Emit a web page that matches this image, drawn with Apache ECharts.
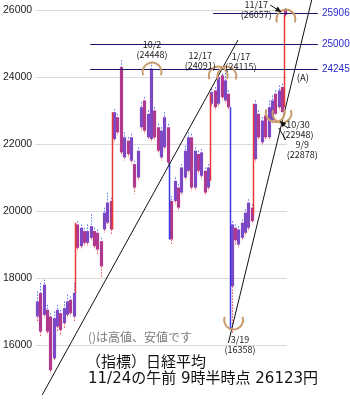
<!DOCTYPE html>
<html><head><meta charset="utf-8">
<script src="https://cdn.jsdelivr.net/npm/echarts@6/dist/echarts.min.js"></script>
<style>html,body{margin:0;padding:0;background:#fff}#c{width:350px;height:400px}</style>
</head><body><div id="c"></div>
<script>
// ---- data ----
const yTicks = [16000, 18000, 20000, 22000, 24000, 26000];
const candleOpen  = [16850,17550,16900,17050,16850,15600,16550,16950,16650,16900,17350,16850,
  19600,18950,19400,19050,19200,19400,19350,19100,19450,19650,20300,
  22150,22800,24300,21600,22100,21500,21400,21000,22500,23300,22200,22150,23000,22500,21600,21900,22500,
  20300,20300,20700,20550,21000,21200,22200,20700,21700,21050,21200,20700,
  23200,23600,23200,24050,23300,23500,
  17750,19500,19000,19200,19350,19500,20100,
  21550,22900,22050,22850,22200,22700,23500,23100,23700,
  26000];
const candleClose = [17300,16400,17800,16400,15250,16800,17050,16450,17100,17300,16950,17550,
  18900,19500,19050,19400,19550,18950,18850,18350,19950,20250,19450,
  22950,22350,21750,22200,21700,22200,20700,21800,23100,22400,22900,24250,22200,21800,22400,22800,21450,
  19150,20900,20100,21300,21800,22200,20700,21800,21200,21750,20550,21300,
  23550,23100,24000,23400,23900,23100,
  19600,19130,19450,19650,19950,20250,19700,
  23200,22200,22700,22200,23100,23300,22900,23600,22950,
  25850];
const candleLow   = [16700,16250,16800,16300,15150,15500,16400,16300,16500,16800,16850,16700,
  18800,18850,18950,18950,19100,18850,18700,18000,19350,19550,19300,
  22050,22250,21650,21500,21600,21400,20500,20900,22400,22300,22100,22050,22100,21700,21500,21800,21350,
  19000,20200,20000,20450,20900,21100,20600,20600,21100,20950,20450,20600,
  23100,23000,23100,23300,23200,23000,
  16358,19000,18900,19100,19250,19400,19600,
  21450,22100,21950,22100,22100,22600,22878,23000,22948,
  25800];
const candleHigh  = [17600,17850,17950,17200,16950,17000,17200,17050,17300,17500,17450,17850,
  19700,19600,19500,19600,19900,19500,19450,19200,20100,20550,20400,
  23050,22900,24500,22350,22200,22300,21500,21900,23250,23400,23000,24448,23100,22600,22500,22950,22600,
  20450,21000,20800,21400,21950,22350,22300,21900,21800,21850,21300,21400,
  23650,23700,24091,24100,24115,23600,
  19700,19600,19550,19750,20050,20350,20200,
  23300,23000,22800,22950,23300,23450,23600,23750,23800,
  26057];
// big gap lines: [position in candle index, from value, to value]
const jumps = [[11.5,17550,19650],[22.5,19450,22950],[39.5,21450,19150],[51.5,20900,23500],
  [57.5,23100,16450],[64.5,19900,23200],[73.5,23100,25850]];
// trend lines: [index1, value1, index2, value2]
const trendLines = [[1.58,14507,59.9,25104],[57.03,16060,81.85,26298]];
const trendNames = ['', '(A)'];
const levelValues = [24245, 25000, 25906];
const levelStart  = [15.9, 15.9, 52.5];
const levelEnd    = [83.7, 83.7, 83.7];
const markIndex = [34, 54, 56, 74, 58, 71, 73];
const markValue = [24448, 24091, 24115, 26057, 16358, 22878, 22948];
const markDate  = ['10/2', '12/17', '1/17', '11/17', '3/19', '9/9', '10/30'];
const markKind  = [1, 1, 1, 1, -1, -1, -1]; // 1 = high, -1 = low
const noteText = '()は高値、安値です';
const titleText = '（指標）日経平均';
const subText = '11/24の午前 9時半時点 26123円';

// ---- layout / style (pixels) ----
const arcShift   = [[1,10],[0,2],[2,3],[0.6,11],[2,-13],[0,-2],[0,1]];
const labelShift = [[1,-12],[-18,-13],[16,-12],[-29,1.5],[8.4,11.5],[27,35],[16,17]];
const leaders = {3:[-15,-3,-4,4,true], 6:[6,16,-2,9,true], 5:[10.6,25.4,3.6,13.4,false]};
const UP = '#7d48c6', DOWN = '#b0388f';
const ARC = '#c99b6c';

const N = candleOpen.length;
const candleData = candleOpen.map((o,i)=>[i,o,candleClose[i],candleLow[i],candleHigh[i]]);
const levelData = levelValues.map((v,i)=>[levelStart[i], levelEnd[i], v]);
const markData = markIndex.map((x,i)=>[x, markValue[i], markKind[i]]);

function renderCandle(params, api){
  const i=api.value(0), o=api.value(1), c=api.value(2), l=api.value(3), h=api.value(4);
  const pO=api.coord([i,o]), pC=api.coord([i,c]), pL=api.coord([i,l]), pH=api.coord([i,h]);
  const w=api.size([1,0])[0]*0.95;
  const top=Math.min(pO[1],pC[1]), bot=Math.max(pO[1],pC[1]);
  const x=Math.round(pO[0])+0.5;
  return {type:'group', children:[
    {type:'line', shape:{x1:x,y1:pH[1],x2:x,y2:top}, style:{stroke:'#5b7cf0',lineWidth:1,lineDash:[1.5,1.5]}},
    {type:'line', shape:{x1:x,y1:bot,x2:x,y2:pL[1]}, style:{stroke:'#f04848',lineWidth:1,lineDash:[1.5,1.5]}},
    {type:'rect', shape:{x:x-w/2,y:top,width:w,height:Math.max(1,bot-top)}, style:{fill:c>=o?UP:DOWN}}
  ]};
}
function renderJump(params, api){
  const p1=api.coord([api.value(0),api.value(1)]), p2=api.coord([api.value(0),api.value(2)]);
  const x=Math.round(p1[0])+0.5;
  return {type:'line', shape:{x1:x,y1:p1[1],x2:x,y2:p2[1]},
    style:{stroke: api.value(2)>api.value(1)?'#e8383a':'#3a3ae0', lineWidth:1.5}};
}
function renderTrend(params, api){
  const p1=api.coord([api.value(0),api.value(1)]), p2=api.coord([api.value(2),api.value(3)]);
  const ch=[{type:'line', shape:{x1:p1[0],y1:p1[1],x2:p2[0],y2:p2[1]}, style:{stroke:'#111',lineWidth:1}}];
  const name=trendNames[params.dataIndex];
  if(name){
    const t=0.775, x=p1[0]+(p2[0]-p1[0])*t+10, y=p1[1]+(p2[1]-p1[1])*t;
    ch.push({type:'text', style:{text:name,x:x,y:y,fill:'#222',font:'9.5px "Noto Sans CJK JP"',align:'center',verticalAlign:'middle'}});
  }
  return {type:'group', children:ch};
}
function renderLevel(params, api){
  const p1=api.coord([api.value(0),api.value(2)]), p2=api.coord([api.value(1),api.value(2)]);
  const y=Math.round(p1[1])+0.5;
  return {type:'group', children:[
    {type:'line', shape:{x1:p1[0],y1:y,x2:p2[0],y2:y}, style:{stroke:'#16166e',lineWidth:1}},
    {type:'text', style:{text:String(api.value(2)),x:p2[0]+4,y:y,fill:'#2a2ad0',font:'10px "Liberation Sans", Arial',align:'left',verticalAlign:'middle'}}
  ]};
}
function renderMark(params, api){
  const k=params.dataIndex;
  const p=api.coord([api.value(0),api.value(1)]);
  const kind=api.value(2);
  const r=9.5;
  const cx=p[0]+arcShift[k][0], cy=p[1]+arcShift[k][1];
  const ch=[];
  ch.push({type:'arc', shape:{cx:cx,cy:cy,r:r,
    startAngle: kind>0? Math.PI-0.35 : -0.35,
    endAngle: kind>0? 2*Math.PI+0.35 : Math.PI+0.35, clockwise:true},
    style:{stroke:ARC,lineWidth:2,fill:'none'}});
  ch.push({type:'text', style:{text:markDate[k]+'\n('+api.value(1)+')',
    x:p[0]+labelShift[k][0], y:p[1]+labelShift[k][1], fill:'#222',
    font:'9px "Noto Sans CJK JP"', lineHeight:10, align:'center', verticalAlign:'middle'}});
  const L=leaders[k];
  if(L){
    const sx=p[0]+L[0], sy=p[1]+L[1], ex=p[0]+L[2], ey=p[1]+L[3];
    ch.push({type:'line', shape:{x1:sx,y1:sy,x2:ex,y2:ey}, style:{stroke:'#111',lineWidth:1}});
    if(L[4]){
      const dx=ex-sx, dy=ey-sy, len=Math.hypot(dx,dy), ux=dx/len, uy=dy/len;
      const bx=ex-ux*6, by=ey-uy*6;
      ch.push({type:'polygon', shape:{points:[[ex,ey],[bx-uy*2.8,by+ux*2.8],[bx+uy*2.8,by-ux*2.8]]}, style:{fill:'#111'}});
    }
  }
  return {type:'group', children:ch};
}

const chart = echarts.init(document.getElementById('c'), null, {renderer:'canvas'});
chart.setOption({
  animation:false,
  backgroundColor:'#fff',
  grid:{left:35, right:63, top:10, bottom:55},
  xAxis:{type:'value', min:-0.5, max:N-0.5, show:false},
  yAxis:{type:'value', min:yTicks[0], max:yTicks[yTicks.length-1], interval:yTicks[1]-yTicks[0],
    axisLine:{show:false}, axisTick:{show:false},
    splitLine:{lineStyle:{color:'#dadada',width:1}},
    axisLabel:{fontSize:10.5, color:'#222', margin:3, fontFamily:'"Liberation Sans", Arial',
      formatter:function(v){return String(v);}}},
  graphic:[
    {type:'text', left:88, top:331, style:{text:noteText, font:'12px "Noto Sans CJK JP"', fill:'#7a7a7a'}},
    {type:'text', left:86, top:354, style:{text:titleText, font:'15px "Noto Sans CJK JP"', fill:'#111'}},
    {type:'text', left:88, top:372, style:{text:subText, font:'15px "DejaVu Sans", "Noto Sans CJK JP"', fill:'#111'}}
  ],
  series:[
    {type:'custom', renderItem:renderCandle, data:candleData, encode:{x:0,y:[1,2,3,4]}, clip:false, silent:true, z:2},
    {type:'custom', renderItem:renderJump, data:jumps, encode:{x:0,y:[1,2]}, clip:false, silent:true, z:3},
    {type:'custom', renderItem:renderLevel, data:levelData, encode:{x:[0,1],y:2}, clip:false, silent:true, z:4},
    {type:'custom', renderItem:renderTrend, data:trendLines, encode:{x:[0,2],y:[1,3]}, clip:false, silent:true, z:5},
    {type:'custom', renderItem:renderMark, data:markData, encode:{x:0,y:1}, clip:false, silent:true, z:6}
  ]
});
</script></body></html>
